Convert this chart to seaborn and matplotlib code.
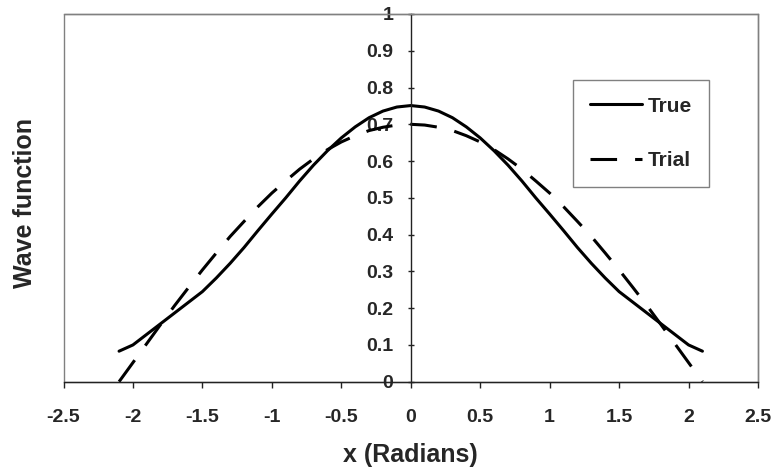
import matplotlib
matplotlib.use('Agg')
import matplotlib.pyplot as plt
from matplotlib.patches import Rectangle
from matplotlib.ticker import FuncFormatter
import pandas as pd
import seaborn as sns

# values
x_vals = [-2.1, -2.0, -1.9, -1.8, -1.7, -1.6, -1.5, -1.4, -1.3, -1.2, -1.1,
          -1.0, -0.9, -0.8, -0.7, -0.6, -0.5, -0.4, -0.3, -0.2, -0.1, 0.0,
          0.1, 0.2, 0.3, 0.4, 0.5, 0.6, 0.7, 0.8, 0.9, 1.0,
          1.1, 1.2, 1.3, 1.4, 1.5, 1.6, 1.7, 1.8, 1.9, 2.0, 2.1]
true_vals = [0.083, 0.100, 0.129, 0.158, 0.187, 0.216, 0.245, 0.282, 0.322, 0.365, 0.411,
             0.456, 0.500, 0.546, 0.589, 0.628, 0.663, 0.693, 0.718, 0.736, 0.747, 0.751,
             0.747, 0.736, 0.718, 0.693, 0.663, 0.628, 0.589, 0.546, 0.500, 0.456,
             0.411, 0.365, 0.322, 0.282, 0.245, 0.216, 0.187, 0.158, 0.129, 0.100, 0.083]
trial_vals = [0.0, 0.052, 0.104, 0.156, 0.207, 0.256, 0.304, 0.350, 0.395, 0.436, 0.476,
              0.513, 0.546, 0.578, 0.606, 0.631, 0.652, 0.669, 0.683, 0.692, 0.698, 0.700,
              0.698, 0.692, 0.683, 0.669, 0.652, 0.631, 0.606, 0.578, 0.546, 0.513,
              0.476, 0.436, 0.395, 0.350, 0.304, 0.256, 0.207, 0.156, 0.104, 0.052, 0.0]
x_ticks = [-2.5, -2, -1.5, -1, -0.5, 0, 0.5, 1, 1.5, 2, 2.5]
y_ticks = [0, 0.1, 0.2, 0.3, 0.4, 0.5, 0.6, 0.7, 0.8, 0.9, 1.0]

df = pd.DataFrame({'x': x_vals, 'true': true_vals, 'trial': trial_vals})

sns.set_style('white')
plt.rcParams['font.family'] = ['Liberation Sans', 'DejaVu Sans']
plt.rcParams['font.weight'] = 'bold'

fig = plt.figure(figsize=(7.71, 4.68), dpi=100)
ax = fig.add_axes([63.5 / 771, 1 - 381.7 / 468, 694.5 / 771, 367.7 / 468])

sns.lineplot(data=df, x='x', y='true', ax=ax, color='black', linewidth=2.2,
             sort=False, label='True')
sns.lineplot(data=df, x='x', y='trial', ax=ax, color='black', linewidth=2.2,
             sort=False, label='Trial', linestyle=(0, (8.7, 5.9)))

ax.set_xlim(-2.5, 2.5)
ax.set_ylim(0, 1)
ax.set_xticks(x_ticks)
ax.set_yticks(y_ticks)
fmt = FuncFormatter(lambda v, p: f'{v:g}')
ax.xaxis.set_major_formatter(fmt)
ax.yaxis.set_major_formatter(fmt)

# plot area frame
ax.add_patch(Rectangle((0, 0), 1, 1, transform=ax.transAxes, fill=False,
                       edgecolor='#808080', linewidth=1, zorder=0, clip_on=False))
for s in ['top', 'right']:
    ax.spines[s].set_color('#808080')
    ax.spines[s].set_linewidth(1)
ax.spines['left'].set_position(('data', 0))
ax.spines['left'].set_color('#222222')
ax.spines['left'].set_linewidth(1)
ax.spines['bottom'].set_color('#222222')
ax.spines['bottom'].set_linewidth(1)

ax.tick_params(axis='x', direction='out', length=4, width=1, color='#222222',
               pad=16, labelsize=14, bottom=True)
ax.tick_params(axis='y', direction='inout', length=5, width=1, color='#222222',
               pad=10, labelsize=14, left=True)

ax.set_xlabel('x (Radians)', fontsize=18, fontweight='bold', labelpad=12)
ax.set_ylabel('Wave function', fontsize=18, fontweight='bold', va='center')
ax.yaxis.set_label_coords((25 - 63.5) / 694.5, 0.5 - 5 / 367.7)

leg = ax.legend(loc='upper left', bbox_to_anchor=(0.734, 0.8205), borderaxespad=0,
                fancybox=False, frameon=True, edgecolor='#808080', framealpha=1,
                prop={'size': 15, 'weight': 'bold'}, handlelength=2.5,
                handletextpad=0.27, labelspacing=1.7, borderpad=0.8)
leg.get_frame().set_linewidth(1)

fig.savefig('out.png', dpi=100)
